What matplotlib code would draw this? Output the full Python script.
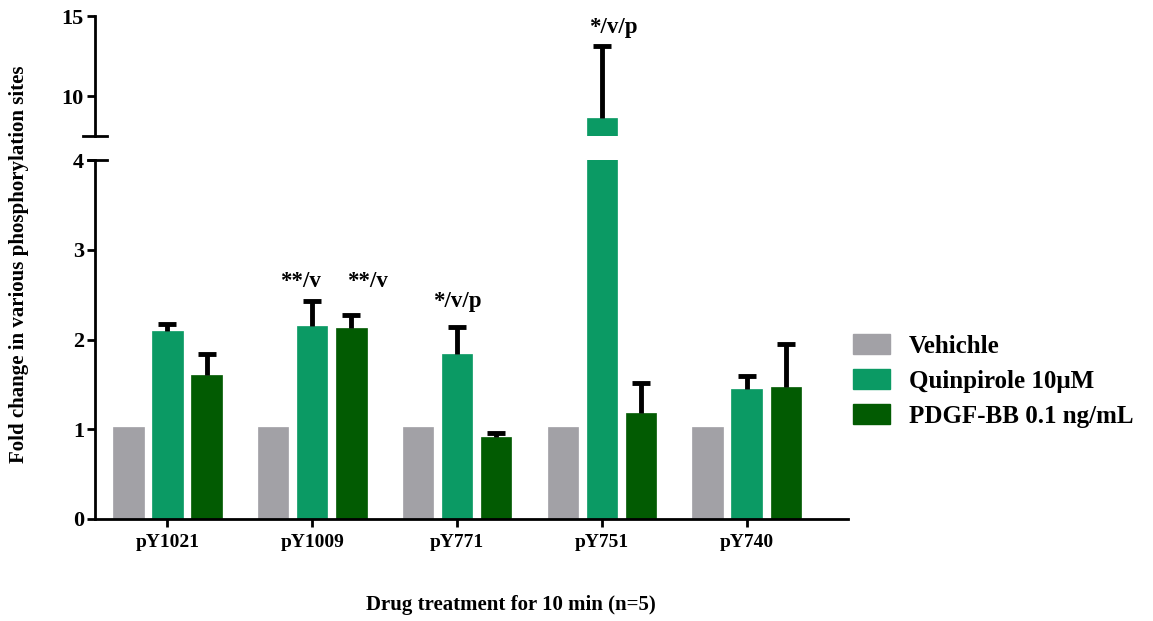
import numpy as np
import matplotlib.pyplot as plt
from matplotlib.patches import Patch

plt.rcParams['font.family'] = ['Liberation Serif', 'DejaVu Serif']
plt.rcParams['font.weight'] = 'bold'

sites = ['pY1021', 'pY1009', 'pY771', 'pY751', 'pY740']
series = ['Vehichle', 'Quinpirole 10\u03bcM', 'PDGF-BB 0.1 ng/mL']
colors = ['#A2A1A6', '#0B9A64', '#025B02']

vehicle = [1.02, 1.02, 1.02, 1.02, 1.02]
quinpirole = [2.10, 2.15, 1.84, 8.63, 1.45]
pdgf = [1.61, 2.13, 0.91, 1.18, 1.47]

vehicle_err = [0, 0, 0, 0, 0]
quinpirole_err = [0.07, 0.28, 0.30, 4.47, 0.14]
pdgf_err = [0.23, 0.14, 0.05, 0.34, 0.48]

# significance labels: (x in category units, y, text)
stars = [(0.917, 2.65, '**/v'), (1.379, 2.65, '**/v'),
         (2.0, 2.42, '*/v/p'), (3.076, 14.3, '*/v/p')]

values = [vehicle, quinpirole, pdgf]
errors = [vehicle_err, quinpirole_err, pdgf_err]

W, H = 1153, 621
fig = plt.figure(figsize=(W / 100, H / 100), dpi=100)
ax_lo = fig.add_axes([95 / W, (H - 519) / H, (848 - 95) / W, (519 - 160) / H])
ax_hi = fig.add_axes([95 / W, (H - 136) / H, (848 - 95) / W, (136 - 16) / H])

x = np.arange(len(sites))
width = 0.21
offsets = [-0.27, 0, 0.27]

for ax in (ax_lo, ax_hi):
    for i in range(3):
        xs = x + offsets[i]
        ax.bar(xs, values[i], width, color=colors[i],
               edgecolor=colors[i], linewidth=0.5, zorder=2)
        err = np.array(errors[i])
        top = np.array(values[i]) + err
        mask = err > 0
        ax.vlines(xs[mask], np.array(values[i])[mask], top[mask],
                  color='black', lw=3.5, zorder=3)
        ax.plot(xs[mask], top[mask], ls='none', marker='_', markersize=13,
                mew=3.5, color='black', zorder=3)
    ax.set_xlim(-0.5, 4.7)
    for s in ['top', 'right']:
        ax.spines[s].set_visible(False)
    ax.spines['left'].set_linewidth(2)
    ax.tick_params(axis='y', width=2, length=6, labelsize=16, pad=2)

ax_lo.set_ylim(0, 4)
ax_lo.set_yticks([0, 1, 2, 3, 4])
ax_lo.spines['bottom'].set_linewidth(2)
ax_lo.set_xticks(x)
ax_lo.set_xticklabels(sites, fontsize=14, fontweight='bold')
ax_lo.tick_params(axis='x', width=2, length=6, pad=5)

ax_hi.set_ylim(7.5, 15)
ax_hi.set_yticks([10, 15])
ax_hi.spines['bottom'].set_visible(False)
ax_hi.set_xticks([])

# axis break marks
ax_hi.plot([-0.016, 0.016], [0, 0], transform=ax_hi.transAxes, color='black',
           lw=2, clip_on=False)
ax_lo.plot([-0.009, 0.016], [1, 1], transform=ax_lo.transAxes, color='black',
           lw=2, clip_on=False)

for sx, sy, txt in stars:
    ax = ax_hi if sy > 4 else ax_lo
    ax.text(sx, sy, txt, ha='center', va='center', fontsize=16.5, fontweight='bold')

for ax in (ax_lo, ax_hi):
    for lab in ax.get_yticklabels():
        lab.set_fontweight('bold')

fig.text(19 / W, (H - 264) / H, 'Fold change in various phosphorylation sites',
         rotation=90, ha='center', va='center', fontsize=15, fontweight='bold')
fig.text(511 / W, (H - 605) / H, 'Drug treatment for 10 min (n=5)',
         ha='center', va='center', fontsize=15, fontweight='bold')

handles = [Patch(facecolor=c, edgecolor=c) for c in colors]
fig.legend(handles, series, loc='center left', bbox_to_anchor=(830 / W, (H - 381) / H),
           frameon=False, handlelength=1.5, handleheight=0.85,
           labelspacing=0.45, handletextpad=0.75, prop={'weight': 'bold', 'size': 18})

fig.savefig('out.png', dpi=100)
